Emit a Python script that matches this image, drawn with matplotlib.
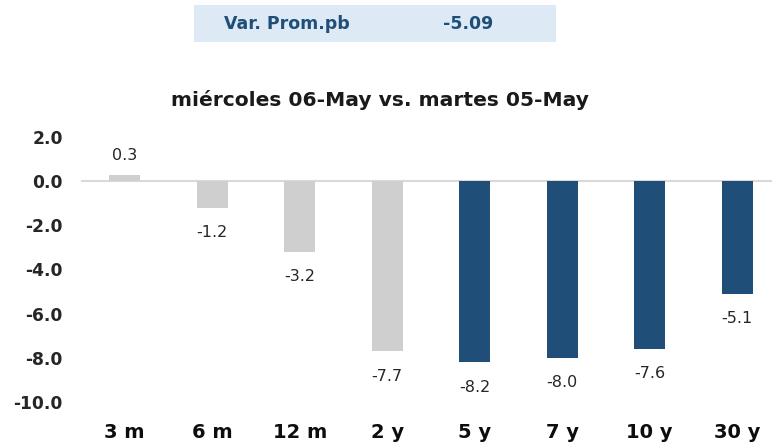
import matplotlib
matplotlib.use("Agg")
import matplotlib.pyplot as plt
from matplotlib.patches import Rectangle

categories = ["3 m", "6 m", "12 m", "2 y", "5 y", "7 y", "10 y", "30 y"]
values = [0.3, -1.2, -3.2, -7.7, -8.2, -8.0, -7.6, -5.1]
bar_colors = ["#d0cfcf"] * 4 + ["#1f4e79"] * 4
yticks = [2.0, 0.0, -2.0, -4.0, -6.0, -8.0, -10.0]
title = "miércoles 06-May vs. martes 05-May"
box_label = "Var. Prom.pb"
box_value = "-5.09"

plt.rcParams['font.family'] = ['DejaVu Sans']

W, H = 772, 445
fig = plt.figure(figsize=(W / 100, H / 100), dpi=100)
ax = fig.add_axes([81 / W, 1 - 402 / H, 700 / W, (402 - 137) / H])

x = list(range(len(categories)))
ax.bar(x, values, width=0.35, color=bar_colors, zorder=2)
ax.axhline(0, color="#d9d9d9", lw=1.5, zorder=1)
ax.set_xlim(-0.5, len(categories) - 0.5)
ax.set_ylim(-10, 2)
ax.set_yticks(yticks)
ax.set_yticklabels([f"{t:.1f}" for t in yticks], fontsize=12.3, fontweight="bold", color="#262626")
ax.set_xticks(x)
ax.set_xticklabels(categories, fontsize=14, fontweight="bold", color="#0d0d0d")
ax.tick_params(axis="both", length=0)
ax.tick_params(axis="x", pad=15)
ax.tick_params(axis="y", pad=13)
for s in ax.spines.values():
    s.set_visible(False)

for xi, v in zip(x, values):
    off = 14 if v >= 0 else -18
    ax.annotate(f"{v:.1f}", (xi, v), xytext=(0, off), textcoords="offset points",
                ha="center", va="center", fontsize=11.5, color="#262626")

fig.text(380 / W, 1 - 100 / H, title, ha="center", va="center",
         fontsize=14.6, fontweight="bold", color="#1a1a1a")

fig.patches.append(Rectangle((194 / W, 1 - 42 / H), (556 - 194) / W, 37 / H,
                             transform=fig.transFigure, facecolor="#dde9f5", edgecolor="none"))
fig.text(287 / W, 1 - 24 / H, box_label, ha="center", va="center",
         fontsize=12.5, fontweight="bold", color="#1f4e79")
fig.text(468 / W, 1 - 24 / H, box_value, ha="center", va="center",
         fontsize=12.5, fontweight="bold", color="#1f4e79")

fig.savefig("out.png", dpi=100)
